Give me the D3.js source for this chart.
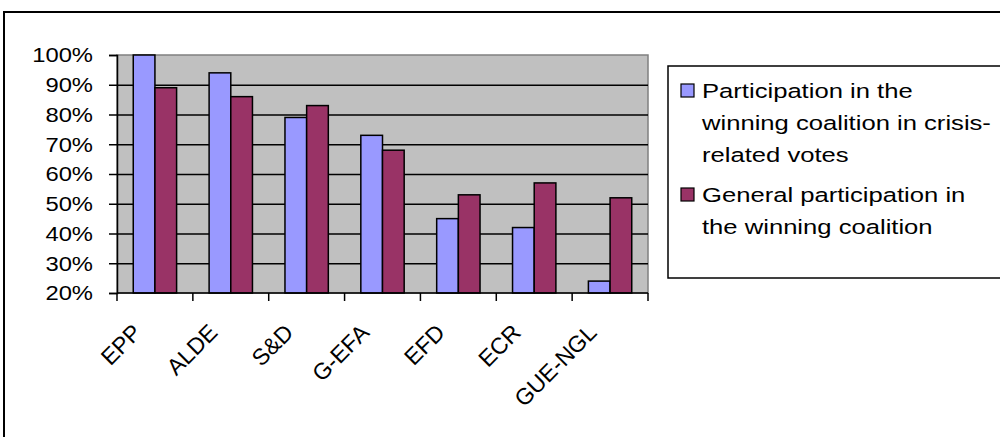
<!DOCTYPE html>
<html>
<head>
<meta charset="utf-8">
<script src="https://cdn.jsdelivr.net/npm/d3@7"></script>
<style>
  html, body { margin: 0; padding: 0; background: #fff; overflow: hidden; }
  svg { display: block; }
  text { font-family: "Liberation Sans", Arial, sans-serif; fill: #000; }
</style>
</head>
<body>
<svg id="chart" width="1000" height="437"></svg>
<script>
// Party groups and their share of votes on the winning side
const groups = ["EPP", "ALDE", "S&D", "G-EFA", "EFD", "ECR", "GUE-NGL"];
const crisisVotes = [100, 94, 79, 73, 45, 42, 24];
const generalVotes = [89, 86, 83, 68, 53, 57, 52];
const seriesNames = [
  "Participation in the winning coalition in crisis-related votes",
  "General participation in the winning coalition"
];
const legendLines = [
  ["Participation in the", "winning coalition in crisis-", "related votes"],
  ["General participation in", "the winning coalition"]
];
const yTicks = [20, 30, 40, 50, 60, 70, 80, 90, 100];
const colors = ["#9999FF", "#993366"];

// lettering: size in px and horizontal stretch
const AXIS_FONT = 20.5, AXIS_SX = 1.16;
const CAT_FONT = 23, CAT_SX = 1.0;
const LEG_FONT = 20.5, LEG_SX = 1.25;

const svg = d3.select("#chart");

// outer chart frame (runs off the right and bottom edges)
svg.append("rect")
  .attr("x", 4).attr("y", 12).attr("width", 1100).attr("height", 500)
  .attr("fill", "#fff").attr("stroke", "#000").attr("stroke-width", 2);

const plot = { left: 117, right: 648, top: 55, bottom: 293 };

const x = d3.scaleBand().domain(groups).range([plot.left, plot.right]).paddingInner(0).paddingOuter(0);
const inner = d3.scaleBand().domain([0, 1]).range([0, x.bandwidth()]).paddingInner(0).paddingOuter(0.75);
const y = d3.scaleLinear().domain([20, 100]).range([plot.bottom, plot.top]);

// plot area
svg.append("rect")
  .attr("x", plot.left).attr("y", plot.top)
  .attr("width", plot.right - plot.left).attr("height", plot.bottom - plot.top)
  .attr("fill", "#C0C0C0").attr("stroke", "#808080").attr("stroke-width", 1.5);

// horizontal gridlines
svg.append("g")
  .attr("transform", `translate(${plot.left},0)`)
  .call(d3.axisRight(y).tickValues(yTicks.filter(v => v > 20 && v < 100))
    .tickSize(plot.right - plot.left).tickFormat(""))
  .call(g => g.select(".domain").remove())
  .call(g => g.selectAll("line").attr("stroke", "#000").attr("stroke-width", 1.5));

// bars
const rows = groups.map((g, i) => ({ group: g, values: [crisisVotes[i], generalVotes[i]] }));
svg.append("g").selectAll("g")
  .data(rows).join("g")
  .attr("transform", d => `translate(${x(d.group)},0)`)
  .selectAll("rect")
  .data(d => d.values.map((v, k) => ({ k, v })))
  .join("rect")
  .attr("x", d => inner(d.k))
  .attr("width", inner.bandwidth())
  .attr("y", d => y(d.v))
  .attr("height", d => y(20) - y(d.v))
  .attr("fill", d => colors[d.k])
  .attr("stroke", "#000").attr("stroke-width", 1.5);

// y axis
const yAxis = svg.append("g")
  .attr("transform", `translate(${plot.left},0)`)
  .call(d3.axisLeft(y).tickValues(yTicks).tickSize(8).tickFormat(d => d + "%"));
yAxis.select(".domain").attr("stroke", "#000").attr("stroke-width", 1.5);
yAxis.selectAll("line").attr("stroke", "#000").attr("stroke-width", 1.5);
yAxis.selectAll("text")
  .attr("x", null).attr("dy", null)
  .attr("font-size", AXIS_FONT)
  .attr("text-anchor", "end")
  .attr("dominant-baseline", "central")
  .attr("transform", `translate(${93 - plot.left},0) scale(${AXIS_SX},1)`);

// x axis with ticks on category boundaries
const xAxis = svg.append("g")
  .attr("transform", `translate(0,${plot.bottom})`);
xAxis.append("line")
  .attr("x1", plot.left).attr("x2", plot.right)
  .attr("stroke", "#000").attr("stroke-width", 1.5);
xAxis.selectAll("line.tick")
  .data(groups.concat([null])).join("line")
  .attr("class", "tick")
  .attr("x1", (d, i) => i < groups.length ? x(d) : plot.right)
  .attr("x2", (d, i) => i < groups.length ? x(d) : plot.right)
  .attr("y1", 0).attr("y2", 8)
  .attr("stroke", "#000").attr("stroke-width", 1.5);
xAxis.selectAll("text")
  .data(groups).join("text")
  .attr("font-size", CAT_FONT)
  .attr("text-anchor", "end")
  .attr("transform", d => `translate(${x(d) + x.bandwidth() / 2 - 12},41) scale(${CAT_SX},1) rotate(-45)`)
  .text(d => d);

// legend
const legend = svg.append("g");
legend.append("rect")
  .attr("x", 668).attr("y", 66).attr("width", 400).attr("height", 212)
  .attr("fill", "#fff").attr("stroke", "#000").attr("stroke-width", 1.5);

const entryTop = [84, 188];
const lineGap = 32;
legendLines.forEach((lines, k) => {
  legend.append("rect")
    .attr("x", 681).attr("y", entryTop[k])
    .attr("width", 13).attr("height", 13)
    .attr("fill", colors[k]).attr("stroke", "#000").attr("stroke-width", 1.2)
    .append("title").text(seriesNames[k]);
  lines.forEach((t, j) => {
    legend.append("text")
      .attr("font-size", LEG_FONT)
      .attr("transform", `translate(702,${entryTop[k] + 13.5 + j * lineGap}) scale(${LEG_SX},1)`)
      .text(t);
  });
});
</script>
</body>
</html>
